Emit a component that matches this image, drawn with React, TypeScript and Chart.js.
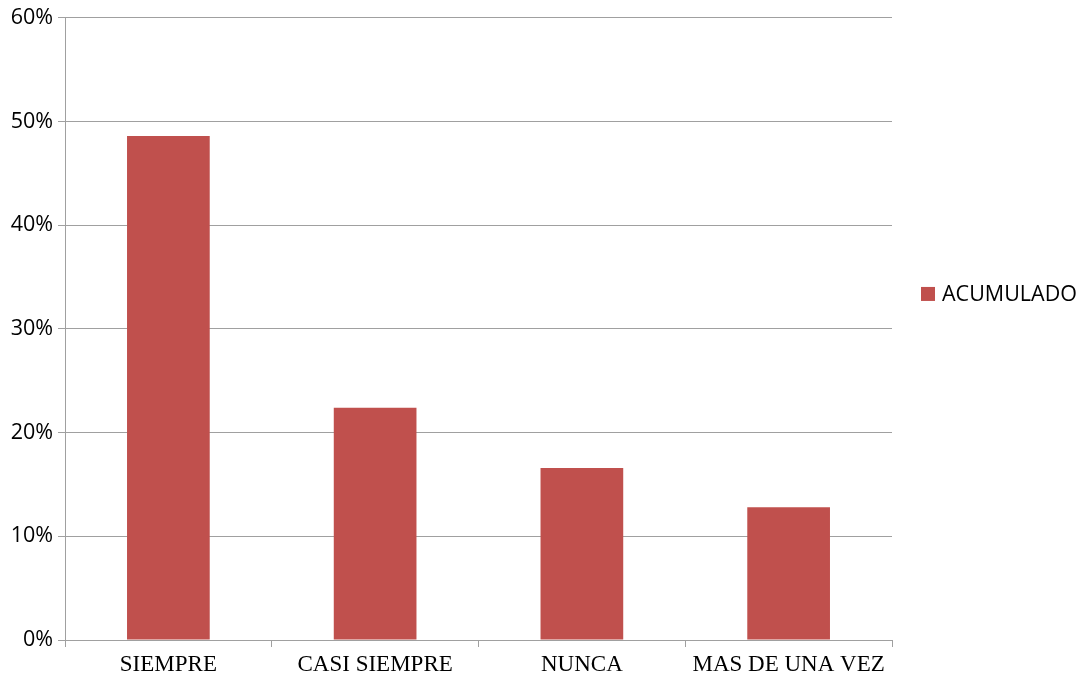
import React, { useEffect, useRef } from "react";
import { Chart, registerables } from "chart.js";

Chart.register(...registerables);

const categories = ["SIEMPRE", "CASI SIEMPRE", "NUNCA", "MAS DE UNA VEZ"];
const seriesLabel = "ACUMULADO";
const seriesValues = [48.6, 22.4, 16.6, 12.8];
const yTicks = [0, 10, 20, 30, 40, 50, 60];

const BAR_COLOR = "#C0504D";
const GRID_COLOR = "#A0A0A0";

const sideLegend = {
  id: "sideLegend",
  afterDraw(chart: any) {
    const ctx = chart.ctx;
    const ds = chart.data.datasets[0];
    const area = chart.chartArea;
    const cy = (area.top + area.bottom) / 2 - 35;
    const x0 = 921;
    ctx.save();
    ctx.fillStyle = ds.backgroundColor;
    ctx.fillRect(x0, cy - 7, 14, 14);
    ctx.font = "21.5px 'Open Sans'";
    ctx.fillStyle = "#000";
    ctx.textBaseline = "middle";
    ctx.textAlign = "left";
    ctx.fillText(ds.label, x0 + 21, cy + 1);
    ctx.restore();
  },
};

export default function App() {
  const ref = useRef<HTMLCanvasElement>(null);
  useEffect(() => {
    if (!ref.current) return;
    const chart = new Chart(ref.current, {
      type: "bar",
      data: {
        labels: categories,
        datasets: [
          {
            label: seriesLabel,
            data: seriesValues,
            backgroundColor: BAR_COLOR,
            barPercentage: 0.4,
            categoryPercentage: 1,
          },
        ],
      },
      options: {
        animation: false,
        responsive: false,
        maintainAspectRatio: false,
        layout: { padding: { top: 16, right: 193, left: 0, bottom: 0 } },
        plugins: { legend: { display: false }, tooltip: { enabled: false } },
        scales: {
          x: {
            offset: true,
            grid: {
              offset: true,
              drawOnChartArea: false,
              drawTicks: true,
              tickLength: 7,
              color: GRID_COLOR,
            },
            border: { color: GRID_COLOR, width: 1 },
            ticks: {
              color: "#000",
              font: { family: "'Liberation Serif', 'Times New Roman', serif", size: 23 },
              padding: 4,
              maxRotation: 0,
              autoSkip: false,
            },
            afterFit: (s: any) => {
              s.height = 36;
            },
          },
          y: {
            min: yTicks[0],
            max: yTicks[yTicks.length - 1],
            afterBuildTicks: (s: any) => {
              s.ticks = yTicks.map((v) => ({ value: v }));
            },
            grid: { color: GRID_COLOR, tickLength: 7, lineWidth: 1 },
            border: { color: GRID_COLOR, width: 1 },
            ticks: {
              color: "#000",
              font: { family: "'Open Sans', sans-serif", size: 21.5 },
              padding: 5,
              callback: (v: any) => v + "%",
            },
            afterFit: (s: any) => {
              s.width = 65;
            },
          },
        },
      },
      plugins: [sideLegend],
    });
    return () => chart.destroy();
  }, []);
  return (
    <div style={{ position: "fixed", left: 0, top: 0, width: 1085, height: 676, background: "#fff" }}>
      <canvas ref={ref} width={1085} height={676} style={{ width: 1085, height: 676 }} />
    </div>
  );
}
